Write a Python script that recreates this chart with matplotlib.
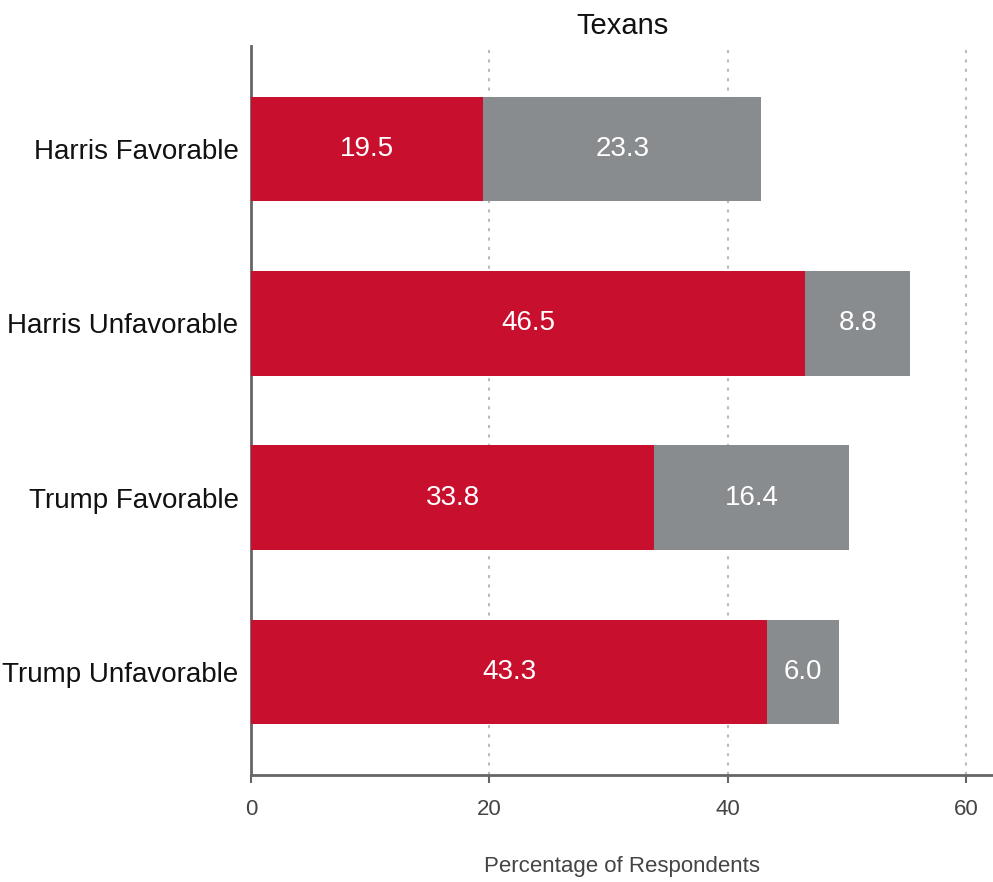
import matplotlib.pyplot as plt
import numpy as np

plt.rcParams['font.family'] = ['Liberation Sans', 'DejaVu Sans']

## bar data
categories = ["Harris Favorable", "Harris Unfavorable", "Trump Favorable", "Trump Unfavorable"]
red_values = [19.5, 46.5, 33.8, 43.3]
gray_values = [23.3, 8.8, 16.4, 6.0]
x_ticks = [0, 20, 40, 60]

RED = "#C8102E"
GRAY = "#898C8E"

fig = plt.figure(figsize=(9.93, 8.82), dpi=100)
ax = fig.add_axes([0.2528, 0.1213, 0.7472, 0.8265])

y = np.arange(len(categories))
b1 = ax.barh(y, red_values, height=0.6, color=RED, zorder=3)
b2 = ax.barh(y, gray_values, left=red_values, height=0.6, color=GRAY, zorder=3)

ax.bar_label(b1, labels=[f"{v:.1f}" for v in red_values], label_type="center",
             color="white", fontsize=20)
ax.bar_label(b2, labels=[f"{v:.1f}" for v in gray_values], label_type="center",
             color="white", fontsize=20)

ax.set_xlim(0, 62.25)
ax.set_ylim(3.59, -0.59)
ax.set_yticks(y)
ax.set_yticklabels(categories, fontsize=20, color="#111111")
ax.set_xticks(x_ticks)
ax.set_xticklabels([str(t) for t in x_ticks], fontsize=16, color="#444444")

ax.tick_params(axis="y", length=0, pad=9)
ax.tick_params(axis="x", length=6, width=1.5, color="#666666", pad=11)

ax.grid(axis="x", linestyle=(0, (1.5, 3)), color="#bbbbbb", linewidth=1.5, zorder=0)
ax.grid(axis="y", visible=False)

for side in ["top", "right"]:
    ax.spines[side].set_visible(False)
for side in ["left", "bottom"]:
    ax.spines[side].set_color("#666666")
    ax.spines[side].set_linewidth(2)

ax.set_title("Texans", fontsize=21, pad=9, color="#111111")
ax.set_xlabel("Percentage of Respondents", fontsize=16, color="#444444", labelpad=26)

plt.savefig("out.png", dpi=100)
